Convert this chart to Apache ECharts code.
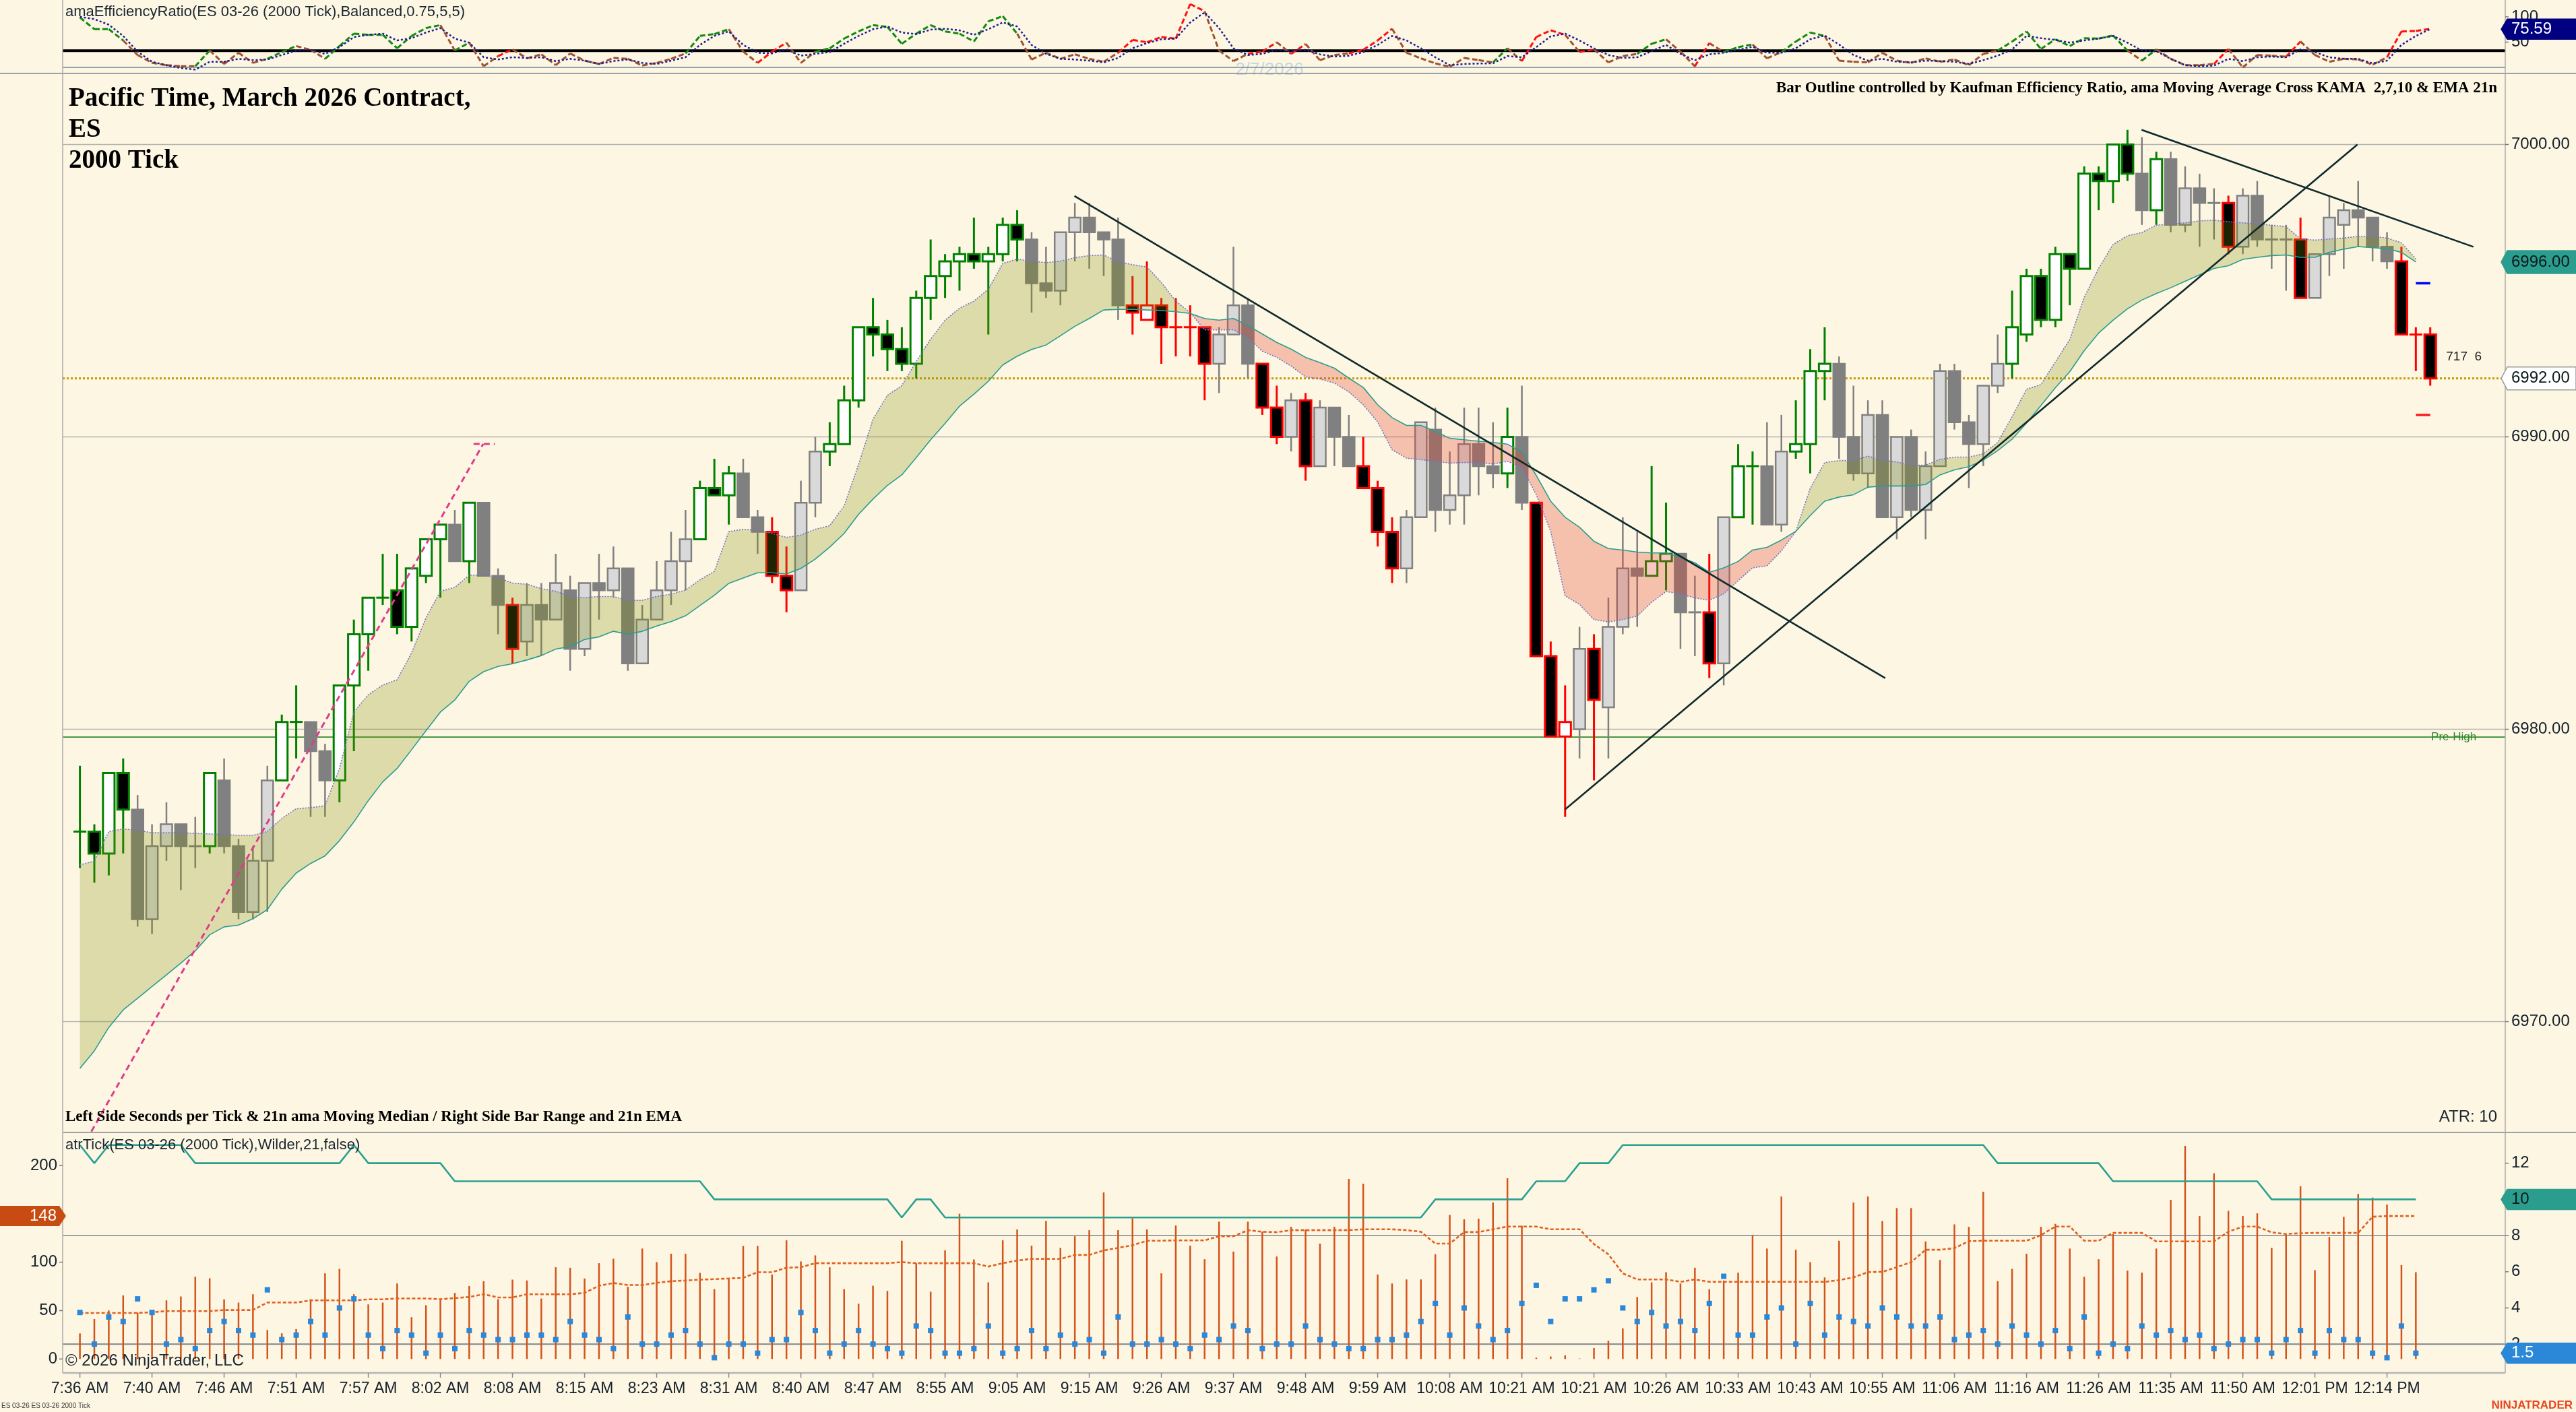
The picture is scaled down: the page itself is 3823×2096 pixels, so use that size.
<!DOCTYPE html>
<html>
<head>
<meta charset="utf-8">
<title>ES 2000 Tick</title>
<script src="https://cdn.jsdelivr.net/npm/echarts@6.0.0/dist/echarts.min.js"></script>
<style>
html,body{margin:0;padding:0;background:#fdf6e3;overflow:hidden;}
#chart{width:3823px;height:2096px;}
#err{position:absolute;left:1400px;top:1300px;font:26px monospace;color:#c00;white-space:pre-wrap;z-index:10;width:2300px;}
</style>
</head>
<body>
<div id="chart"></div>
<div id="err"></div>
<script>
// ---------------- DATA ----------------
const timeLabels = ["7:36 AM","7:40 AM","7:46 AM","7:51 AM","7:57 AM","8:02 AM","8:08 AM","8:15 AM","8:23 AM","8:31 AM","8:40 AM","8:47 AM","8:55 AM","9:05 AM","9:15 AM","9:26 AM","9:37 AM","9:48 AM","9:59 AM","10:08 AM","10:21 AM","10:21 AM","10:26 AM","10:33 AM","10:43 AM","10:55 AM","11:06 AM","11:16 AM","11:26 AM","11:35 AM","11:50 AM","12:01 PM","12:14 PM"];
const barsPerLabel = 5;

const opens = [6976.5,6976.5,6975.75,6978.5,6977.25,6973.5,6976.0,6976.75,6976.0,6976.0,
6978.25,6976.0,6973.75,6975.5,6978.25,6980.25,6980.25,6979.25,6978.25,6981.5,
6983.25,6984.5,6984.75,6983.5,6985.25,6986.5,6987.0,6985.75,6987.75,6985.25,
6984.25,6983.0,6984.25,6983.75,6984.75,6982.75,6985.0,6984.75,6985.5,6982.25,
6983.75,6984.75,6985.75,6986.5,6988.25,6988.0,6988.75,6987.25,6986.75,6985.25,
6984.75,6987.75,6989.5,6989.75,6991.25,6993.75,6993.5,6993.0,6992.5,6994.75,
6995.5,6996.0,6996.25,6996.0,6996.25,6997.25,6996.75,6995.25,6995.0,6997.0,
6997.5,6997.0,6996.75,6994.5,6994.0,6994.5,6993.75,6993.75,6993.75,6992.5,
6993.5,6994.5,6992.5,6991.0,6990.0,6991.25,6989.0,6991.0,6990.0,6989.0,
6988.25,6986.75,6985.5,6987.25,6990.25,6987.5,6988.0,6989.75,6989.0,6988.75,
6990.0,6987.75,6982.5,6979.75,6980.0,6982.75,6980.75,6983.5,6985.5,6985.25,
6985.75,6986.0,6984.0,6984.0,6982.25,6987.25,6989.0,6989.0,6987.0,6989.5,
6989.75,6992.25,6992.5,6990.0,6988.75,6990.75,6987.25,6990.0,6987.5,6989.0,
6992.25,6990.5,6989.75,6991.75,6992.5,6993.5,6995.5,6994.0,6996.25,6995.75,
6999.0,6998.75,7000.0,6999.0,6997.75,6999.5,6997.25,6998.5,6998.0,6998.0,
6996.5,6998.25,6996.75,6996.75,6996.75,6994.75,6996.25,6997.25,6997.75,6997.5,
6996.5,6996.0,6993.5,6993.5];

const highs = [6978.75,6976.75,6978.5,6979.0,6977.75,6976.75,6977.5,6976.75,6977.0,6978.5,
6979.0,6976.25,6976.0,6978.75,6980.5,6981.5,6980.25,6979.5,6981.5,6983.75,
6984.5,6986.0,6986.0,6985.5,6986.5,6987.0,6987.5,6987.75,6987.75,6985.5,
6984.5,6985.0,6985.0,6986.0,6985.25,6985.0,6986.0,6986.25,6985.5,6984.25,
6985.75,6986.75,6987.5,6988.5,6989.25,6989.0,6989.25,6987.5,6987.25,6986.25,
6988.5,6990.0,6990.5,6991.75,6993.75,6994.75,6994.0,6993.75,6995.0,6996.75,
6996.25,6996.5,6997.5,6996.5,6997.5,6997.75,6997.0,6996.5,6997.0,6998.0,
6998.0,6997.0,6997.5,6995.5,6996.0,6994.75,6994.75,6994.5,6993.75,6993.75,
6996.5,6994.75,6992.5,6991.75,6991.5,6991.5,6991.25,6991.0,6990.75,6990.0,
6988.5,6987.25,6987.5,6990.5,6991.0,6989.5,6991.0,6991.0,6990.5,6991.0,
6991.75,6987.75,6983.0,6981.5,6983.5,6983.25,6984.5,6987.25,6986.75,6989.0,
6987.75,6986.0,6985.25,6986.0,6987.25,6989.75,6989.5,6990.5,6990.75,6991.25,
6993.0,6993.75,6992.75,6991.75,6991.25,6991.25,6990.0,6990.25,6989.5,6992.5,
6992.5,6990.75,6991.75,6993.5,6995.0,6995.75,6995.75,6996.5,6996.25,6999.25,
6999.25,7000.0,7000.5,7000.25,6999.75,6999.75,6999.25,6999.0,6998.5,6998.25,
6998.5,6998.75,6997.25,6997.25,6997.5,6996.25,6998.25,6998.0,6998.75,6997.5,
6997.0,6996.5,6993.75,6993.75];

const lows = [6975.25,6974.75,6975.0,6975.75,6973.25,6973.0,6975.5,6974.5,6975.25,6975.75,
6975.75,6973.5,6973.5,6973.75,6978.25,6979.0,6977.0,6977.0,6977.5,6979.25,
6982.0,6984.25,6983.25,6983.0,6985.0,6984.5,6985.75,6985.0,6985.25,6983.25,
6982.25,6982.5,6982.5,6983.75,6982.0,6982.5,6983.75,6984.5,6982.0,6982.25,
6983.75,6984.25,6984.75,6986.5,6988.0,6987.0,6987.25,6986.0,6985.0,6984.0,
6984.75,6987.25,6989.0,6989.75,6991.0,6992.75,6992.25,6992.25,6992.0,6994.0,
6994.75,6995.0,6995.75,6993.5,6996.0,6996.0,6994.25,6994.75,6994.5,6996.0,
6995.75,6995.5,6994.0,6993.5,6994.0,6992.5,6992.75,6992.75,6991.25,6991.5,
6993.5,6992.0,6990.75,6989.75,6989.5,6988.5,6989.0,6989.0,6989.0,6988.25,
6986.25,6985.0,6985.0,6987.25,6986.75,6987.0,6987.0,6988.0,6988.25,6988.25,
6987.5,6982.5,6979.75,6977.0,6979.0,6978.25,6979.0,6983.25,6983.5,6985.25,
6984.75,6982.75,6982.5,6981.75,6981.5,6987.25,6987.0,6987.0,6986.75,6989.25,
6988.75,6991.25,6989.25,6988.5,6988.25,6987.25,6986.5,6987.25,6986.5,6989.0,
6990.25,6988.25,6989.0,6991.5,6992.0,6993.25,6993.75,6993.75,6994.5,6995.75,
6997.75,6998.0,6998.75,6997.25,6997.25,6997.0,6997.0,6996.5,6996.75,6996.25,
6996.25,6996.5,6995.75,6995.0,6994.75,6994.75,6995.5,6995.75,6996.5,6996.0,
6995.75,6993.5,6992.25,6991.75];

const closes = [6976.5,6975.75,6978.5,6977.25,6973.5,6976.0,6976.75,6976.0,6976.0,6978.5,
6976.0,6973.75,6975.5,6978.25,6980.25,6980.25,6979.25,6978.25,6981.5,6983.25,
6984.5,6984.5,6983.5,6985.5,6986.5,6987.0,6985.75,6987.75,6985.25,6984.25,
6982.75,6984.25,6983.75,6985.0,6982.75,6985.0,6984.75,6985.5,6982.25,6983.75,
6984.75,6985.75,6986.5,6988.25,6988.0,6988.75,6987.25,6986.75,6985.25,6984.75,
6987.75,6989.5,6989.75,6991.25,6993.75,6993.5,6993.0,6992.5,6994.75,6995.5,
6996.0,6996.25,6996.0,6996.25,6997.25,6996.75,6995.25,6995.0,6997.0,6997.5,
6997.0,6996.75,6994.5,6994.25,6994.5,6993.75,6993.75,6993.75,6992.5,6993.5,
6994.5,6992.5,6991.0,6990.0,6991.25,6989.0,6991.0,6990.0,6989.0,6988.25,
6986.75,6985.5,6987.25,6990.5,6987.5,6988.0,6989.75,6989.0,6988.75,6990.0,
6987.75,6982.5,6979.75,6980.25,6982.75,6981.0,6983.5,6985.5,6985.25,6985.75,
6986.0,6984.0,6984.0,6982.25,6987.25,6989.0,6989.0,6987.0,6989.5,6989.75,
6992.25,6992.5,6990.0,6988.75,6990.75,6987.25,6990.0,6987.5,6989.0,6992.25,
6990.5,6989.75,6991.75,6992.5,6993.75,6995.5,6994.0,6996.25,6995.75,6999.0,
6998.75,7000.0,6999.0,6997.75,6999.5,6997.25,6998.5,6998.0,6998.0,6996.5,
6998.25,6996.75,6996.75,6996.75,6994.75,6996.25,6997.5,6997.75,6997.5,6996.5,
6996.0,6993.5,6993.5,6992.0];

// Efficiency-ratio state of each bar: G = efficient up, R = efficient down, N = neutral
const erState = ("GGGG"+"NNNNN"+"G"+"NNNN"+"GG"+"NN"+"GGGGGGGG"+"N"+"G"+"NN"+"R"+"NNNNNNNNNNNN"+"GGG"+"NN"+"RR"+"NN"+
 "GGGGGGGGGGGGGG"+"NNNNNNN"+"RRRRRR"+"NNN"+"RR"+"N"+"R"+"NNN"+"RRR"+"NNNNNNN"+"G"+"N"+"RRR"+"N"+"R"+"NNN"+"GG"+"NN"+"R"+"N"+
 "GG"+"NN"+"GGG"+"NNNNNNNNNNNN"+"GGGGGGGGG"+"N"+"G"+"NNNN"+"R"+"NNNN"+"R"+"NNNNNN"+"RRR").split("");

const kama = [6975.36,6975.49,6976.5,6976.59,6976.55,6976.46,6976.46,6976.46,6976.44,6976.42,
6976.4,6976.37,6976.37,6976.5,6976.95,6977.28,6977.32,6977.38,6978.66,6980.59,
6981.18,6981.51,6981.69,6982.61,6983.81,6984.72,6984.85,6985.27,6985.27,6985.18,
6985.0,6984.96,6984.81,6984.72,6984.54,6984.5,6984.54,6984.54,6984.41,6984.41,
6984.54,6984.62,6984.76,6985.11,6985.4,6986.76,6986.84,6986.8,6986.7,6986.56,
6986.64,6986.84,6986.96,6987.64,6989.05,6990.6,6991.42,6991.75,6992.58,6993.34,
6993.99,6994.4,6994.64,6995.05,6995.93,6996.08,6996.01,6995.96,6996.01,6996.13,
6996.2,6996.22,6995.99,6995.89,6995.81,6995.28,6994.64,6994.25,6993.66,6993.66,
6993.66,6993.4,6992.93,6992.72,6992.42,6992.05,6991.98,6991.84,6991.54,6991.1,
6990.51,6989.56,6989.27,6989.22,6989.16,6989.1,6989.12,6989.12,6989.07,6989.16,
6988.97,6988.02,6986.77,6984.56,6984.27,6983.75,6983.67,6983.75,6983.87,6984.34,
6984.71,6984.63,6984.49,6984.41,6984.63,6985.08,6985.52,6985.59,6986.1,6986.77,
6988.24,6989.12,6989.19,6989.19,6989.34,6989.2,6989.14,6989.03,6989.03,6989.23,
6989.31,6989.31,6989.42,6989.81,6990.69,6991.63,6991.79,6992.56,6993.33,6994.77,
6995.76,6996.58,6996.88,6996.99,6997.24,6997.28,6997.32,6997.39,6997.41,6997.36,
6997.32,6997.28,6997.24,6997.19,6996.77,6996.73,6996.77,6996.8,6996.86,6996.86,
6996.8,6996.64,6996.09];

const ema21 = [6968.4,6969.0,6969.8,6970.4,6970.8,6971.2,6971.6,6972.0,6972.42,6972.97,
6973.24,6973.3,6973.52,6973.83,6974.53,6975.08,6975.41,6975.67,6976.19,6976.83,
6977.56,6978.2,6978.66,6979.3,6979.95,6980.59,6981.0,6981.64,6981.97,6982.15,
6982.24,6982.37,6982.52,6982.74,6982.83,6983.07,6983.16,6983.35,6983.25,6983.35,
6983.53,6983.68,6983.88,6984.23,6984.58,6984.99,6985.17,6985.35,6985.35,6985.31,
6985.5,6985.82,6986.23,6986.7,6987.35,6987.87,6988.34,6988.7,6989.29,6989.9,
6990.46,6991.05,6991.46,6991.9,6992.46,6992.76,6992.99,6993.14,6993.46,6993.78,
6994.05,6994.34,6994.36,6994.36,6994.34,6994.32,6994.28,6994.22,6994.05,6993.99,
6994.05,6993.81,6993.52,6993.23,6993.0,6992.72,6992.54,6992.35,6992.01,6991.69,
6991.1,6990.66,6990.39,6990.39,6990.19,6989.95,6989.9,6989.85,6989.81,6989.75,
6989.48,6988.68,6987.8,6987.25,6986.91,6986.43,6986.18,6986.13,6986.06,6986.03,
6986.03,6985.88,6985.69,6985.37,6985.52,6985.74,6986.13,6986.22,6986.47,6986.77,
6987.31,6987.8,6987.94,6988.02,6988.28,6988.32,6988.32,6988.32,6988.37,6988.7,
6988.87,6988.98,6989.2,6989.53,6989.92,6990.47,6991.07,6991.68,6992.23,6992.95,
6993.55,6993.99,6994.38,6994.68,6994.9,6995.1,6995.32,6995.54,6995.76,6995.85,
6996.07,6996.14,6996.2,6996.22,6996.14,6996.14,6996.31,6996.42,6996.51,6996.47,
6996.44,6996.31,6995.98];

const effRatio = [98.7,75.6,75.6,53.3,24.4,8.9,4.4,2.2,2.2,33.3,
6.7,28.9,8.9,16.9,30.2,42.2,34.7,16.9,42.2,66.7,
64.4,64.4,37.8,62.2,77.8,83.6,33.3,48.9,2.2,22.2,
35.6,17.8,25.8,4.4,27.6,13.3,6.7,18.7,16.9,3.6,
8.9,16.9,27.6,62.2,65.8,75.6,31.1,8.9,31.1,48.9,
8.9,31.1,37.8,57,71.1,83.6,80,46.7,66.7,83.6,
71.1,66.7,51.1,91.1,101.3,66.7,15.6,28.9,16.9,25.8,
16.9,11.1,28.9,54.2,49.8,60,56.9,125.3,111.1,33.3,
12.4,26.7,31.1,49.8,26.7,46.2,14.2,24.4,27.6,34.7,
53.3,76.4,28.9,17.8,8,0.9,18.7,14.2,9.8,37.8,
12.4,60,73.3,64.4,30.2,35.6,9.8,22.2,26.7,46.7,
55.6,31.1,2.2,48,30.2,40,45.3,17.8,30.2,51.1,
68.9,62.2,13.3,11.1,9.8,28.9,13.3,8.9,17.8,11.1,
15.6,4.4,26.7,33.3,51.1,71.1,36.4,55.6,42.2,57.8,
56.9,63.1,33.3,13.3,35.6,16.9,4.4,4.4,6.7,36.4,
0,24.4,23.1,21.3,51.1,24.4,11.1,16.9,15.6,5.3,
20,71.1,72,76.4];

const erSignal = [100,95.6,84.4,62.2,31.1,11.1,4.4,-1.3,-4.4,11.1,
11.1,16.9,14.2,15.6,24.4,33.3,34.7,26.7,40,60,
64.4,66.7,53.3,57.8,68.9,77.8,56.9,48.9,20,15.6,
20,18.7,20,12.4,16.9,13.3,6.7,12.4,15.6,8.9,
6.7,13.3,20,44.4,62.2,71.1,44.4,28.9,27.6,35.6,
23.1,26.7,30.2,46.7,62.2,75.6,80.9,68.9,65.8,74.7,
76.4,73.3,64.4,75.6,88.9,80.9,44.4,26.7,16.9,15.6,
13.3,9.8,18.7,37.8,48,55.6,56.9,88.9,108.9,77.8,
37.8,24.4,26.7,34.7,32,34.7,25.8,21.3,23.1,30.2,
44.4,62.2,53.3,37.8,20,4.4,6.7,7.6,8,22.2,
20,40,61.3,66.7,53.3,37.8,24.4,18.7,20,32,
44.4,26.7,14.2,25.8,28.9,34.7,40.9,28.9,28.9,37.8,
55.6,63.1,45.3,24.4,13.3,16.9,11.1,9.8,13.3,12.4,
11.1,6.7,14.2,23.1,35.6,62.2,57.8,54.2,48.9,53.3,
56.9,62.2,48.9,33.3,32,16.9,4.4,2.2,3.6,16.9,
12.4,20,21.3,20,35.6,30.2,20,16.9,16.9,8,
13.3,44.4,62.2,75.59];
const erThreshold = 33;

const secondsPerBar = [26.5,41.3,50.2,65.7,47.9,50.2,60.6,64.6,85.0,83.4,
61.6,58.3,66.9,30,26.5,30.9,61.8,88.5,93.1,66.9,
56.4,58.3,78.0,43.2,55.5,61.8,68.3,75.5,80.4,61.8,
82.0,81.1,62.5,94.8,94.3,83.2,99.0,103.6,74.6,114.1,
100.1,108.7,108.7,89.0,72.2,83.4,116.8,116.8,87.3,122.6,
100.8,107.1,94.8,72.2,57.1,75.7,70.4,122.2,99.0,69.5,
112.2,150.1,102.9,79.2,122.6,133.8,117.1,142.6,114.8,126.8,
133.1,172.1,133.1,145.4,133.8,88.5,138.0,117.1,103.1,141.9,
111.0,141.9,131.5,105.9,136.6,133.8,119.2,136.6,186.1,181.0,
87.3,78.0,82.2,82.2,108.2,148.9,144.3,145.0,161.7,186.8,
137.7,1.4,2.6,3.7,0.5,11.4,18.8,31.6,64.1,79.2,
89.7,78.0,94.3,72.2,81.1,89.2,128.0,114.1,167.9,112.9,
100.1,84.3,122.2,161.7,167.9,142.6,155.9,155.9,121.5,102.4,
139.1,136.6,172.8,80.4,93.1,108.7,136.6,139.6,114.1,85.0,
103.1,129.2,91.3,89.2,114.1,164.5,220.2,147.7,191.9,153.1,
147.7,150.5,114.8,128.7,178.4,91.8,126.1,147.0,170.5,166.8,
159.6,97.1,89.7];

const secondsMedian = [47.6,47.6,47.6,47.6,47.6,48.3,49.5,49.5,49.5,49.5,
50.6,50.6,50.6,58.3,58.3,58.3,60.6,60.6,60.6,60.6,
61.6,61.6,62.5,62.5,62.5,61.8,62.9,64.1,66.9,63.6,
63.6,66.9,66.9,66.9,66.9,68.3,75.7,78.5,76.4,76.4,
78.7,80.4,81.1,82.0,82.5,83.2,83.9,89.7,89.7,94.3,
94.8,99.0,99.0,99.0,99.0,99.0,99.0,100.1,99.0,99.0,
99.0,99.0,99.0,95.5,99.0,101.7,103.4,103.4,103.4,107.5,
107.5,112.2,114.8,117.5,122.2,122.2,122.6,122.6,122.6,126.8,
126.8,133.1,131.5,131.0,133.1,133.1,133.1,133.1,133.1,134.0,
134.0,134.0,133.1,131.5,119.2,119.2,131.2,131.2,134.0,136.8,
136.8,136.8,134.0,134.0,134.0,118.7,108.2,88.5,82.2,82.2,
82.2,79.7,82.2,79.7,79.7,79.7,79.7,79.7,79.7,79.7,
79.7,79.7,81.5,84.3,89.7,90.1,94.8,100.1,112.9,112.9,
114.5,121.7,122.2,122.2,122.2,122.2,128.0,136.8,136.8,122.2,
122.2,130.3,130.3,130.3,121.5,121.5,121.5,121.5,121.5,131.5,
136.8,136.8,130.8,129.2,129.9,130.3,130.3,130.3,130.3,147.0,
147.7,147.7,147.7];

const barRange = [3.75,2.0,3.5,3.25,4.5,3.75,2.0,2.25,1.75,2.75,
3.25,2.75,2.5,5.0,2.25,2.5,3.25,2.5,4.0,4.5,
2.5,1.75,2.75,2.5,1.5,2.5,1.75,2.75,2.5,2.25,
2.25,2.5,2.5,2.25,3.25,2.5,2.25,1.75,3.5,2.0,
2.0,2.5,2.75,2.0,1.25,2.0,2.0,1.5,2.25,2.25,
3.75,2.75,1.5,2.0,2.75,2.0,1.75,1.5,3.0,2.75,
1.5,1.5,1.75,3.0,1.5,1.75,2.75,1.75,2.5,2.0,
2.25,1.5,3.5,2.0,2.0,2.25,2.0,1.75,2.5,2.25,
3.0,2.75,1.75,2.0,2.0,3.0,2.25,2.0,1.75,1.75,
2.25,2.25,2.5,3.25,4.25,2.5,4.0,3.0,2.25,2.75,
4.25,5.25,3.25,4.5,4.5,5.0,5.5,4.0,3.25,3.75,
3.0,3.25,2.75,4.25,5.75,2.5,2.5,3.5,4.0,2.0,
4.25,2.5,3.5,3.25,3.0,4.0,3.5,3.0,3.0,3.5,
2.25,2.5,2.75,2.0,3.0,2.5,2.0,2.75,1.75,3.5,
1.5,2.0,1.75,3.0,2.5,2.75,2.25,2.5,1.75,2.0,
2.25,2.25,1.5,2.25,2.75,1.5,2.75,2.25,2.25,1.5,
1.25,3.0,1.5];

const atrTicks = [13,12,13,13,13,13,13,13,12,12,
12,12,12,12,12,12,12,12,12,13,
12,12,12,12,12,12,11,11,11,11,
11,11,11,11,11,11,11,11,11,11,
11,11,11,11,10,10,10,10,10,10,
10,10,10,10,10,10,10,9,10,10,
9,9,9,9,9,9,9,9,9,9,
9,9,9,9,9,9,9,9,9,9,
9,9,9,9,9,9,9,9,9,9,
9,9,9,9,10,10,10,10,10,10,
10,11,11,11,12,12,12,13,13,13,
13,13,13,13,13,13,13,13,13,13,
13,13,13,13,13,13,13,13,13,13,
13,13,13,12,12,12,12,12,12,12,
12,11,11,11,11,11,11,11,11,11,
11,11,10,10,10,10,10,10,10,10,
10,10,10];

// tick values for the axes
const erTicks = [50, 100];
const priceTicks = [6970, 6980, 6990, 7000];
const secTicks = [0, 50, 100, 150, 200];
const rangeTicks = [2, 4, 6, 8, 10, 12];
const rangeLevels = [2, 8];

// drawn trend lines, [barIndex, price]
const trendDown1 = [[68.97, 6998.24],[125.2, 6981.75]];
const trendUp = [[103.0, 6977.26],[157.95, 7000.0]];
const trendDown2 = [[142.98, 7000.5],[165.99, 6996.5]];
const pinkTrend = [[0.79, 6966.24],[27.97, 6989.76]];
const pinkCap = [[27.3, 6989.76],[28.77, 6989.76]];
const projHigh = [[162, 6995.25],[163, 6995.25]];
const projLow = [[162, 6990.75],[163, 6990.75]];
const preHigh = 6979.73;
const barTimerText = "717  6";
const barTimerPos = [164.1, 6992.73];

// ---------------- CHART ----------------
const W = 3823, H = 2096;
const PL = 93, PR = 105, RX = W - PR;
const XMIN = -1.196, XMAX = 168.2;
const SANS = '"Liberation Sans", Arial, sans-serif';
const SERIF = '"Liberation Serif", "Times New Roman", serif';
const AXC = '#14202b';
const logErr = m => { document.getElementById('err').textContent += m + "\n"; };

const xAx = gi => ({type:'value', gridIndex:gi, min:XMIN, max:XMAX, show:false});
const yAx = (gi, pos, mn, mx) => ({type:'value', gridIndex:gi, position:pos, min:mn, max:mx, show:false});

const UPFILL = 'rgba(128,140,0,0.25)', DNFILL = 'rgba(230,70,50,0.30)';
const stateColor = {G:'#008000', R:'#ff0000', N:'#808080'};
const erColor = {G:'#108a10', R:'#ff1010', N:'#a0522d'};

const candleData = opens.map((o,i)=>[i, o, highs[i], lows[i], closes[i]]);
const bandData = kama.map((k,i)=>[i, k, ema21[i]]);
const erSegData = effRatio.slice(1).map((v,j)=>[j, effRatio[j], j+1, v]);
const idx = a => a.map((v,i)=>[i,v]);
const lastClose = closes[closes.length-1];

function renderCandle(params, api){
  const i = api.value(0), o = api.value(1), h = api.value(2), l = api.value(3), c = api.value(4);
  const st = erState[params.dataIndex] || 'N';
  const col = stateColor[st];
  const colored = st !== 'N';
  const w = api.size([1,0])[0]*0.8;
  const pO = api.coord([i,o]), pC = api.coord([i,c]), pH = api.coord([i,h]), pL = api.coord([i,l]);
  const x = pO[0];
  const ch = [{type:'line', shape:{x1:x,y1:pH[1],x2:x,y2:pL[1]}, style:{stroke:col, lineWidth:colored?3:2.5}}];
  if (o === c) {
    ch.push({type:'line', shape:{x1:x-w/2-1,y1:pO[1],x2:x+w/2+1,y2:pO[1]}, style:{stroke:col, lineWidth:3}});
  } else {
    const up = c > o;
    const fill = colored ? (up ? '#ffffff' : '#000000') : (up ? '#d9d9d9' : '#808080');
    ch.push({type:'rect', shape:{x:x-w/2, y:Math.min(pO[1],pC[1]), width:w, height:Math.abs(pO[1]-pC[1])},
             style:{fill:fill, stroke:col, lineWidth:colored?3:2.5}});
  }
  return {type:'group', children:ch};
}
// whole KAMA/EMA band drawn once, as one polygon per run of same sign
function renderBand(params, api){
  if (params.dataIndex !== 0) return null;
  const n = bandData.length;
  const runs = []; let cur = null;
  const add = (s, a, b) => {
    if (cur && cur.s === s) cur.pts.push(b);
    else { cur = {s:s, pts:[a, b]}; runs.push(cur); }
  };
  const sgn = v => v >= 0 ? 1 : -1;
  for (let j = 1; j < n; j++) {
    const A = bandData[j-1], B = bandData[j];
    const dp = A[1]-A[2], d = B[1]-B[2];
    if (dp*d < 0) {
      const t = dp/(dp-d), xm = A[0]+t*(B[0]-A[0]), ym = A[1]+t*(B[1]-A[1]);
      const M = [xm, ym, ym];
      add(sgn(dp), A, M);
      add(sgn(d), M, B);
    } else {
      add(sgn(dp+d), A, B);
    }
  }
  const children = runs.map(r => {
    const top = r.pts.map(p => api.coord([p[0], p[1]]));
    const bot = r.pts.slice().reverse().map(p => api.coord([p[0], p[2]]));
    const col = r.s > 0 ? UPFILL : DNFILL;
    return {type:'polygon', shape:{points: top.concat(bot)}, style:{fill:col}};
  });
  return {type:'group', children:children};
}
function renderErSeg(params, api){
  const p1 = api.coord([api.value(0), api.value(1)]);
  const p2 = api.coord([api.value(2), api.value(3)]);
  const st = erState[api.value(2)] || 'N';
  return {type:'line', shape:{x1:p1[0],y1:p1[1],x2:p2[0],y2:p2[1]}, style:{stroke:erColor[st], lineWidth:3, lineDash:[8,4]}};
}
function renderSec(params, api){
  const i = api.value(0);
  const p0 = api.coord([i,0]), p1 = api.coord([i, api.value(1)]);
  return {type:'line', shape:{x1:p0[0],y1:p0[1],x2:p1[0],y2:p1[1]}, style:{stroke:'#d4531b', lineWidth:2.5}};
}
const levelStyles = {
  erLevels: [{stroke:'#6f8a98', lineWidth:1.5}, {stroke:'#000000', lineWidth:4}],
  priceLevels: priceTicks.map(()=>({stroke:'#b4b4b0', lineWidth:1.5})).concat([{stroke:'#2f8a2f', lineWidth:1.8},{stroke:'#c29a00', lineWidth:3, lineDash:[3,3]}]),
  lowerLevels: [{stroke:'#7f8588', lineWidth:2}, {stroke:'#9ca2a4', lineWidth:2}]
};
function renderLevel(params, api){
  const a = api.coord([XMIN, api.value(1)]);
  const b = api.coord([XMAX, api.value(1)]);
  const st = levelStyles[params.seriesName][params.dataIndex];
  return {type:'line', shape:{x1:a[0], y1:a[1], x2:b[0], y2:b[1]}, style:Object.assign({}, st)};
}
const levelData = arr => arr.map(v=>[0, v]);

const gridRect = (top, height) => ({left:PL, right:PR, top:top, height:height});
const baseOption = {
  backgroundColor:'#fdf6e3',
  animation:false,
  grid:[ gridRect(0,109), gridRect(109,1572), gridRect(1681,357), gridRect(1681,357) ],
  xAxis:[ xAx(0), xAx(1), xAx(2), xAx(3) ],
  yAxis:[ yAx(0,'right',-12,133.3), yAx(1,'right',6966.21,7002.43), yAx(2,'left',-14.4,234.1), yAx(3,'right',0.408,13.70) ]
};
const allSeries = [
  // ---- top panel ----
  {name:'erLevels', type:'custom', xAxisIndex:0, yAxisIndex:0, data:levelData([0, erThreshold]), encode:{x:0, y:1}, renderItem:renderLevel, z:1},
  {name:'erSeg', type:'custom', xAxisIndex:0, yAxisIndex:0, data:erSegData, encode:{x:[0,2], y:[1,3]}, renderItem:renderErSeg, z:3},
  {name:'erSignal', type:'line', xAxisIndex:0, yAxisIndex:0, data:idx(erSignal), symbol:'none', z:4, lineStyle:{color:'#1d1d8f', width:2.5, type:[3,3]}},
  // ---- main price panel ----
  {name:'priceLevels', type:'custom', xAxisIndex:1, yAxisIndex:1, data:levelData(priceTicks.concat([preHigh, lastClose])), encode:{x:0, y:1}, renderItem:renderLevel, z:1},
  {name:'candles', type:'custom', xAxisIndex:1, yAxisIndex:1, data:candleData, encode:{x:0, y:[1,2,3,4]}, renderItem:renderCandle, z:2},
  {name:'band', type:'custom', xAxisIndex:1, yAxisIndex:1, data:bandData, encode:{x:0, y:[1,2]}, renderItem:renderBand, z:3},
  {name:'kama', type:'line', xAxisIndex:1, yAxisIndex:1, data:idx(kama), symbol:'none', z:4, lineStyle:{color:'#7474c8', width:1.6, type:[2,2]}},
  {name:'ema', type:'line', xAxisIndex:1, yAxisIndex:1, data:idx(ema21), symbol:'none', z:4, lineStyle:{color:'#2a9d8f', width:1.6}},
  {name:'t1', type:'line', xAxisIndex:1, yAxisIndex:1, data:trendDown1, symbol:'none', z:6, lineStyle:{color:'#0e2a2c', width:2.6}},
  {name:'t2', type:'line', xAxisIndex:1, yAxisIndex:1, data:trendUp, symbol:'none', z:6, lineStyle:{color:'#0e2a2c', width:2.6}},
  {name:'t3', type:'line', xAxisIndex:1, yAxisIndex:1, data:trendDown2, symbol:'none', z:6, lineStyle:{color:'#0e2a2c', width:2.6}},
  {name:'pink', type:'line', xAxisIndex:1, yAxisIndex:1, data:pinkTrend, symbol:'none', z:6, lineStyle:{color:'#de3d8c', width:3, type:[9,6]}},
  {name:'pinkCap', type:'line', xAxisIndex:1, yAxisIndex:1, data:pinkCap, symbol:'none', z:6, lineStyle:{color:'#de3d8c', width:3, type:[9,6]}},
  {name:'projH', type:'line', xAxisIndex:1, yAxisIndex:1, data:projHigh, symbol:'none', z:6, lineStyle:{color:'#0000ff', width:3.5}},
  {name:'projL', type:'line', xAxisIndex:1, yAxisIndex:1, data:projLow, symbol:'none', z:6, lineStyle:{color:'#ff1a1a', width:3.5}},
  // ---- lower panel (left axis: grid 2, right axis: overlaid grid 3) ----
  {name:'lowerLevels', type:'custom', xAxisIndex:3, yAxisIndex:3, data:levelData(rangeLevels), encode:{x:0, y:1}, renderItem:renderLevel, z:1},
  {name:'sec', type:'custom', xAxisIndex:2, yAxisIndex:2, data:idx(secondsPerBar), encode:{x:0, y:1}, renderItem:renderSec, z:2},
  {name:'secMed', type:'line', xAxisIndex:2, yAxisIndex:2, data:idx(secondsMedian), symbol:'none', z:3, lineStyle:{color:'#e0601f', width:2.6, type:[5,3]}},
  {name:'range', type:'scatter', xAxisIndex:3, yAxisIndex:3, data:idx(barRange), symbol:'rect', symbolSize:[8,8], z:4, itemStyle:{color:'#2b88d8', opacity:1}},
  {name:'atr', type:'line', xAxisIndex:3, yAxisIndex:3, data:idx(atrTicks), symbol:'none', z:5, lineStyle:{color:'#2aa091', width:2.6}}
];

let chart = null;
function build(seriesArr){
  if (chart) chart.dispose();
  chart = echarts.init(document.getElementById('chart'), null, {renderer:'canvas', width:W, height:H});
  chart.setOption(Object.assign({}, baseOption, {series:seriesArr}));
  chart.getZr().flush();
}
try { build(allSeries); }
catch(e) {
  logErr('full build failed: ' + e.message);
  const good = [];
  allSeries.forEach(s => {
    try { build(good.concat([s])); good.push(s); }
    catch(err) { logErr('skip ' + s.name + ': ' + err.message); }
  });
  try { build(good); } catch(err) { logErr('rebuild failed: ' + err.message); }
}

// ---------------- OVERLAYS: axis labels, tags, texts, frames ----------------
try {
const py = (axis, v) => chart.convertToPixel({yAxisIndex:axis}, v);
const pxx = v => chart.convertToPixel({xAxisIndex:2}, v);
const pxy = (grid, p) => chart.convertToPixel({gridIndex:grid}, p);
const G = [];
function text(txt, x, y, font, fill, align, z){
  G.push({type:'text', z:z||90, style:{text:txt, x:x, y:y, font:font, fill:fill, align:align||'left', verticalAlign:'middle'}});
}
function seg(x1,y1,x2,y2,col,w){ G.push({type:'line', z:80, shape:{x1:x1,y1:y1,x2:x2,y2:y2}, style:{stroke:col, lineWidth:w}}); }
function rightTag(v, axis, txt, bg, fg, h, border){
  const yc = py(axis, v);
  G.push({type:'polygon', z:100, shape:{points:[[RX-6,yc],[RX+3,yc-h/2],[W,yc-h/2],[W,yc+h/2],[RX+3,yc+h/2]]},
          style:{fill:bg, stroke:border||bg, lineWidth:1.5}});
  G.push({type:'text', z:101, style:{text:txt, x:RX+9, y:yc, font:'24px '+SANS, fill:fg, align:'left', verticalAlign:'middle'}});
}
seg(0,109,W,109,'#9ca3a6',2);
seg(PL,1681,W,1681,'#9ca3a6',2);
seg(PL,0,PL,2038,'#a8aaa8',1.5);
seg(RX,0,RX,2038,'#a8aaa8',1.5);
seg(PL,2038,RX,2038,'#b5b5b5',2.5);

erTicks.forEach(v => { const y = py(0,v); seg(RX,y,RX+5,y,'#7a7a7a',1.5); text(String(v), RX+9, y, '24px '+SANS, AXC); });
priceTicks.forEach(v => { const y = py(1,v); seg(RX,y,RX+5,y,'#7a7a7a',1.5); text(v.toFixed(2), RX+9, y, '24px '+SANS, AXC); });
secTicks.forEach(v => { const y = py(2,v); seg(PL-5,y,PL,y,'#7a7a7a',1.5); text(String(v), PL-8, y, '24px '+SANS, AXC, 'right'); });
rangeTicks.forEach(v => { const y = py(3,v); seg(RX,y,RX+5,y,'#7a7a7a',1.5); text(String(v), RX+9, y, '24px '+SANS, AXC); });
timeLabels.forEach((t,k) => { const x = pxx(k*barsPerLabel); seg(x,2038,x,2045,'#8a8a8a',1.5); text(t, x, 2062, '23px '+SANS, AXC, 'center'); });

const lastSignal = erSignal[erSignal.length-1];
const lastEma = ema21[ema21.length-1];
const lastMed = secondsMedian[secondsMedian.length-1];
const lastAtr = atrTicks[atrTicks.length-1];
const lastRange = barRange[barRange.length-1];
rightTag(lastSignal, 0, lastSignal.toFixed(2), '#000080', '#ffffff', 30);
rightTag(lastEma, 1, (Math.round(lastEma*4)/4).toFixed(2), '#2a9d8f', '#0b1a1a', 34);
rightTag(lastClose, 1, lastClose.toFixed(2), '#ffffff', '#0b1a1a', 34, '#9a9a9a');
rightTag(lastAtr, 3, String(lastAtr), '#2a9d8f', '#0b1a1a', 30);
rightTag(lastRange, 3, String(lastRange), '#2b88d8', '#ffffff', 30);
{
  const yc = py(2, lastMed);
  G.push({type:'polygon', z:100, shape:{points:[[0,yc-15],[88,yc-15],[98,yc],[88,yc+15],[0,yc+15]]}, style:{fill:'#c84b12'}});
  G.push({type:'text', z:101, style:{text:String(Math.round(lastMed)), x:84, y:yc, font:'24px '+SANS, fill:'#ffffff', align:'right', verticalAlign:'middle'}});
}
text('amaEfficiencyRatio(ES 03-26 (2000 Tick),Balanced,0.75,5,5)', 97, 18, '22px '+SANS, '#1a2630');
text('Pacific Time, March 2026 Contract,', 102, 147, 'bold 39px '+SERIF, '#000');
text('ES', 102, 193, 'bold 39px '+SERIF, '#000');
text('2000 Tick', 102, 239, 'bold 39px '+SERIF, '#000');
text('Bar Outline controlled by Kaufman Efficiency Ratio, ama Moving Average Cross KAMA  2,7,10 & EMA 21n', 3706, 131, 'bold 23px '+SERIF, '#000', 'right');
text('2/7/2026', 1884, 104, '26px '+SANS, 'rgba(80,140,210,0.30)', 'center', 5);
text('Left Side Seconds per Tick & 21n ama Moving Median / Right Side Bar Range and 21n EMA', 97, 1658, 'bold 23px '+SERIF, '#000');
text('ATR: ' + lastAtr, 3706, 1658, '24px '+SANS, '#1a2630', 'right');
text('atrTick(ES 03-26 (2000 Tick),Wilder,21,false)', 97, 1700, '22px '+SANS, '#1a2630');
text('\u00a9 2026 NinjaTrader, LLC', 97, 2020, '24px '+SANS, '#1a2630');
text('NINJATRADER', 3818, 2086, 'bold 17px '+SANS, '#e8461e', 'right');
text('ES 03-26 ES 03-26 2000 Tick', 2, 2087, '10px '+SANS, '#333');
{
  const p = pxy(1, [166.2, preHigh]);
  text('Pre-High', p[0], p[1], '17px '+SANS, '#2f8a2f', 'right');
  const q = pxy(1, barTimerPos);
  text(barTimerText, q[0], q[1], '19px '+SANS, '#1a1a1a', 'left');
}
chart.setOption({graphic: G});
} catch(e) { logErr('overlay: ' + e.message); }
</script>
</body>
</html>
